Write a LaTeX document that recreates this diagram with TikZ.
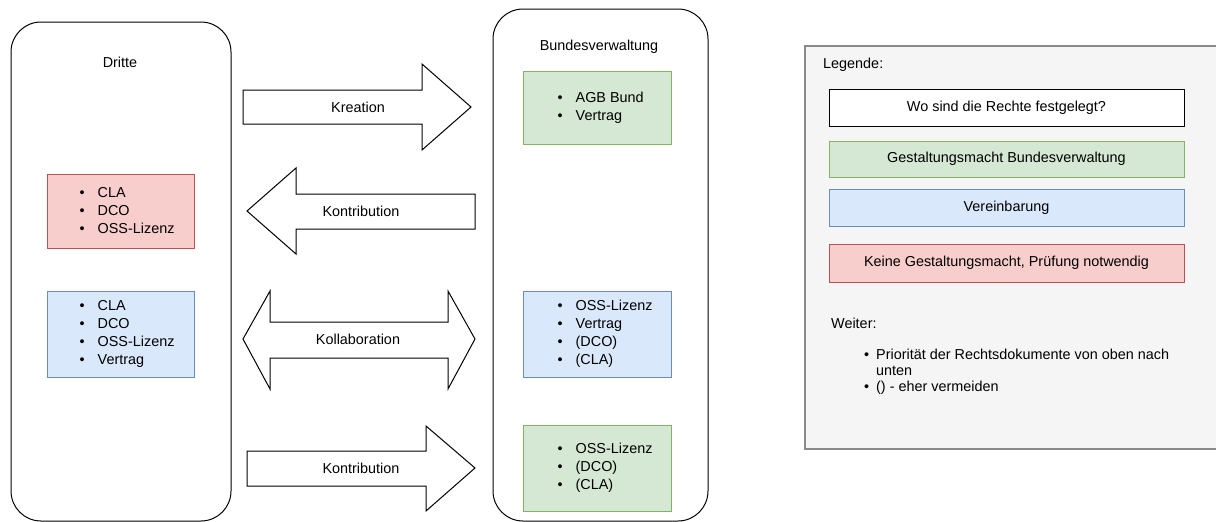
\documentclass[tikz,border=0pt]{standalone}
\usepackage{fontspec}
\setmainfont{Liberation Sans}

\definecolor{greenfill}{HTML}{D5E8D4}
\definecolor{greenline}{HTML}{82B366}
\definecolor{bluefill}{HTML}{DAE8FC}
\definecolor{blueline}{HTML}{6C8EBF}
\definecolor{redfill}{HTML}{F8CECC}
\definecolor{redline}{HTML}{B85450}
\definecolor{legendfill}{HTML}{F5F5F5}
\definecolor{legendline}{HTML}{8A8A8A}

% one bulleted line of a list
\newcommand{\li}[1]{\makebox[18pt][l]{\textbullet}#1}
\newcommand{\lilegend}[1]{\makebox[12pt][l]{\textbullet}#1}

\tikzset{
  container/.style={draw=black, rounded corners=30pt, fill=white, line width=1pt},
  box/.style={draw, line width=1pt, inner sep=0pt},
  greenbox/.style={box, draw=greenline, fill=greenfill},
  bluebox/.style={box, draw=blueline, fill=bluefill},
  redbox/.style={box, draw=redline, fill=redfill},
  whitebox/.style={box, draw=black, fill=white},
  itemlist/.style={anchor=west, align=left, inner sep=0pt},
  blockarrow/.style={draw=black, fill=white, line width=1pt, line join=miter},
  label/.style={inner sep=0pt},
}

\begin{document}
\begin{tikzpicture}[x=1pt, y=-1pt, font=\fontsize{14.4}{18}\selectfont]
\useasboundingbox (0,0) rectangle (1216,522);

% the two parties
\node[container, minimum width=220pt, minimum height=499pt] (dritte) at (121,271.5) {};
\node[container, minimum width=215pt, minimum height=512pt] (bund) at (600.5,265) {};
\node[label] (dritteT) at (120,62) {Dritte};
\node[label] (bundT) at (599,47) {Bundesverwaltung};

% documents on the side of third parties
\node[redbox, minimum width=147pt, minimum height=74pt] (dRed) at (120.5,211) {};
\node[itemlist] (dRedT) at ([xshift=33pt]dRed.west) {\li{CLA}\\\li{DCO}\\\li{OSS-Lizenz}};
\node[bluebox, minimum width=147pt, minimum height=86pt] (dBlue) at (120.5,334) {};
\node[itemlist] (dBlueT) at ([xshift=33pt]dBlue.west) {\li{CLA}\\\li{DCO}\\\li{OSS-Lizenz}\\\li{Vertrag}};

% documents on the side of the federal administration
\node[greenbox, minimum width=148pt, minimum height=73pt] (bGreenA) at (597,107.5) {};
\node[itemlist] (bGreenAT) at ([xshift=35pt]bGreenA.west) {\li{AGB Bund}\\\li{Vertrag}};
\node[bluebox, minimum width=148pt, minimum height=86pt] (bBlue) at (597,334) {};
\node[itemlist] (bBlueT) at ([xshift=35pt]bBlue.west) {\li{OSS-Lizenz}\\\li{Vertrag}\\\li{(DCO)}\\\li{(CLA)}};
\node[greenbox, minimum width=148pt, minimum height=86pt] (bGreenB) at (597,468) {};
\node[itemlist] (bGreenBT) at ([xshift=35pt]bGreenB.west) {\li{OSS-Lizenz}\\\li{(DCO)}\\\li{(CLA)}};

% block arrows between the parties
\draw[blockarrow] (243,90) -- (422,90) -- (422,64) -- (471,107) -- (422,150)
  -- (422,124) -- (243,124) -- cycle;
\node[label] (kreation) at (358,107) {Kreation};

\draw[blockarrow] (475,194) -- (296,194) -- (296,168) -- (247,211) -- (296,254)
  -- (296,229) -- (475,229) -- cycle;
\node[label] (kontribA) at (361,211) {Kontribution};

\draw[blockarrow] (243,339) -- (270,291) -- (270,322) -- (448,322) -- (448,291)
  -- (475,339) -- (448,389) -- (448,358) -- (270,358) -- (270,389) -- cycle;
\node[label] (kollab) at (358,339) {Kollaboration};

\draw[blockarrow] (247,451) -- (426,451) -- (426,426) -- (475,468) -- (426,511)
  -- (426,486) -- (247,486) -- cycle;
\node[label] (kontribB) at (361,468) {Kontribution};

% legend
\draw[draw=legendline, fill=legendfill, line width=1.2pt] (805,46) rectangle (1230,449);
\node[label, anchor=west] (legende) at (823,65) {Legende:};
\node[whitebox, minimum width=355pt, minimum height=37pt] (lgWhite) at (1006.5,107.5) {Wo sind die Rechte festgelegt?};
\node[greenbox, minimum width=355pt, minimum height=36pt] (lgGreen) at (1006.5,159) {Gestaltungsmacht Bundesverwaltung};
\node[bluebox, minimum width=355pt, minimum height=37pt] (lgBlue) at (1006.5,207.5) {Vereinbarung};
\node[redbox, minimum width=355pt, minimum height=38pt] (lgRed) at (1006.5,263) {Keine Gestaltungsmacht, Prüfung notwendig};
\node[label, anchor=west] (weiter) at (831,323) {Weiter:};
\node[itemlist, font=\fontsize{14.4}{16}\selectfont] (weiterT) at (864,372)
  {\lilegend{Priorität der Rechtsdokumente von oben nach}\\\hspace*{12pt}unten\\\lilegend{() - eher vermeiden}};
\end{tikzpicture}
\end{document}
